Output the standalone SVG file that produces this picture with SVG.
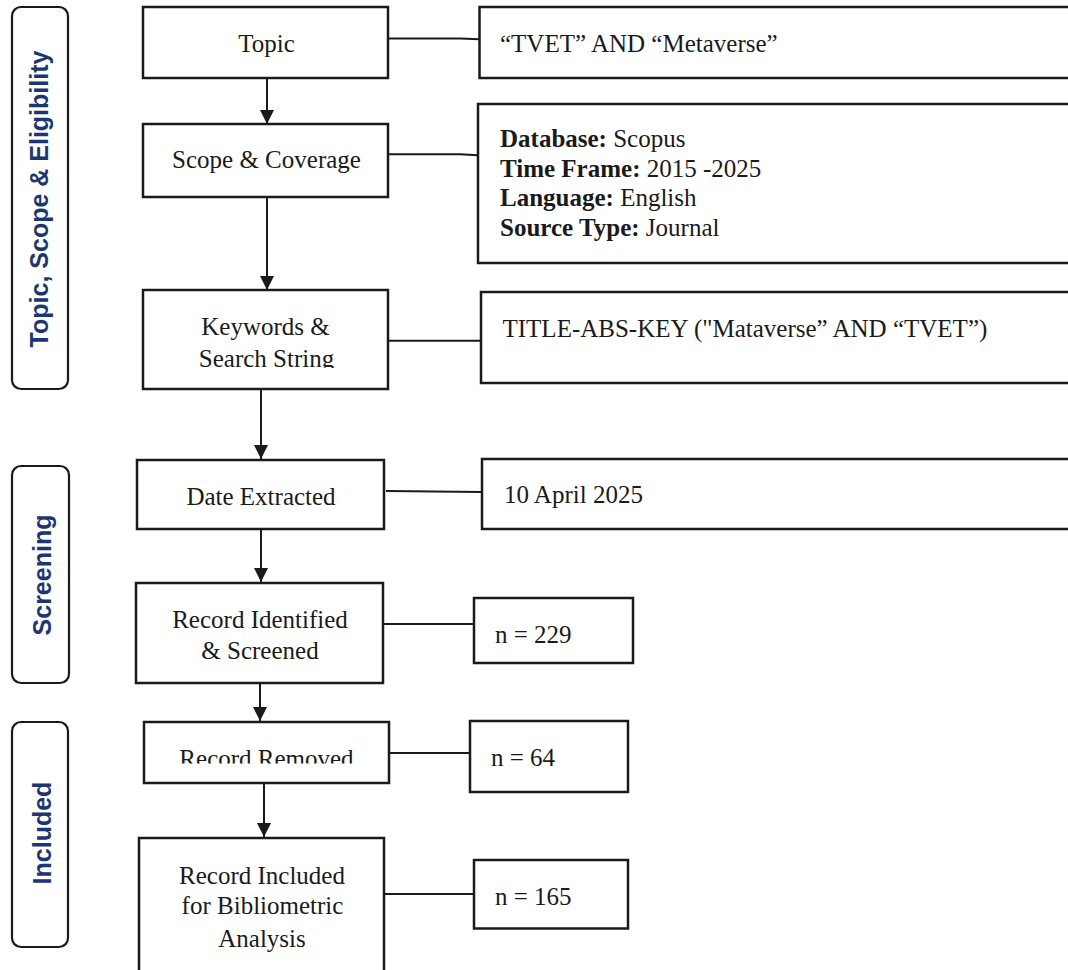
<svg xmlns="http://www.w3.org/2000/svg" width="1068" height="970" viewBox="0 0 1068 970">
<style>
.box{fill:#fff;stroke:#1a1a1a;stroke-width:2.5}
.side{fill:#fff;stroke:#1a1a1a;stroke-width:2.2}
.t{font-family:"Liberation Serif","Times New Roman",serif;font-size:25px;fill:#1a1a1a}
.c{text-anchor:middle}
.b{font-weight:bold}
.lab{font-family:"Liberation Sans",Arial,sans-serif;font-size:25px;font-weight:bold;fill:#1c3672;text-anchor:middle}
.ln{fill:none;stroke:#1a1a1a;stroke-width:2}
</style>
<defs>
<marker id="ah" viewBox="0 0 10 10" refX="10" refY="5" markerWidth="7" markerHeight="7" markerUnits="strokeWidth" orient="auto">
<path d="M0,0 L10,5 L0,10 Z" fill="#1a1a1a"/>
</marker>
<clipPath id="clipKw"><rect x="140" y="288" width="250" height="80"/></clipPath>
<clipPath id="clipRm"><rect x="140" y="720" width="250" height="43.5"/></clipPath>
</defs>
<rect width="1068" height="970" fill="#fff"/>

<g id="stage-topic">
<rect class="side" x="12" y="7" width="56" height="382" rx="9"/>
<text class="lab" transform="translate(48,199) rotate(-90)">Topic, Scope &amp; Eligibility</text>
</g>
<g id="stage-screening">
<rect class="side" x="12" y="466" width="57" height="217" rx="9"/>
<text class="lab" transform="translate(51,575) rotate(-90)">Screening</text>
</g>
<g id="stage-included">
<rect class="side" x="12" y="722" width="56" height="225" rx="9"/>
<text class="lab" transform="translate(51,833) rotate(-90)">Included</text>
</g>

<g id="connectors">
<line class="ln" x1="267" y1="78" x2="267" y2="124" marker-end="url(#ah)"/>
<line class="ln" x1="267" y1="197" x2="267" y2="290" marker-end="url(#ah)"/>
<line class="ln" x1="261" y1="383" x2="261" y2="459" marker-end="url(#ah)"/>
<line class="ln" x1="261" y1="529" x2="261" y2="582" marker-end="url(#ah)"/>
<line class="ln" x1="260" y1="683" x2="260" y2="721" marker-end="url(#ah)"/>
<line class="ln" x1="264" y1="783" x2="264" y2="837" marker-end="url(#ah)"/>
<polyline class="ln" points="388,38.5 460,38.5 480,39.3"/>
<polyline class="ln" points="388,154.3 460,154.3 478,155.3"/>
<line class="ln" x1="388" y1="340.7" x2="481" y2="340.7"/>
<line class="ln" x1="386" y1="491" x2="482" y2="492"/>
<line class="ln" x1="383" y1="624" x2="474" y2="624"/>
<line class="ln" x1="389" y1="753" x2="470" y2="753"/>
<line class="ln" x1="384" y1="894" x2="474" y2="894"/>
</g>

<g id="topic">
<rect class="box" x="143" y="7" width="245" height="71"/>
<text class="t c" x="266.5" y="52">Topic</text>
</g>
<g id="topic-detail">
<rect class="box" x="479.5" y="7" width="600" height="71"/>
<text class="t" x="500" y="52">“TVET” AND “Metaverse”</text>
</g>

<g id="scope">
<rect class="box" x="143" y="124" width="245" height="73"/>
<text class="t c" x="266.5" y="168">Scope &amp; Coverage</text>
</g>
<g id="scope-detail">
<rect class="box" x="478" y="104" width="600" height="159"/>
<text class="t" x="500" y="147"><tspan class="b">Database:</tspan> Scopus</text>
<text class="t" x="500" y="177"><tspan class="b">Time Frame:</tspan> 2015 -2025</text>
<text class="t" x="500" y="206"><tspan class="b">Language:</tspan> English</text>
<text class="t" x="500" y="235.5"><tspan class="b">Source Type:</tspan> Journal</text>
</g>

<g id="keywords">
<rect class="box" x="143" y="290" width="245" height="99"/>
<text class="t c" x="265.5" y="335">Keywords &amp;</text>
<text class="t c" x="266.5" y="367" clip-path="url(#clipKw)">Search String</text>
</g>
<g id="keywords-detail">
<rect class="box" x="481" y="292" width="600" height="91"/>
<text class="t" x="502.5" y="337">TITLE-ABS-KEY ("Mataverse” AND “TVET”)</text>
</g>

<g id="date">
<rect class="box" x="137" y="460" width="247" height="69"/>
<text class="t c" x="261" y="505">Date Extracted</text>
</g>
<g id="date-detail">
<rect class="box" x="482" y="459" width="600" height="70"/>
<text class="t" x="504" y="503">10 April 2025</text>
</g>

<g id="identified">
<rect class="box" x="136" y="583" width="247" height="100"/>
<text class="t c" x="260" y="628">Record Identified</text>
<text class="t c" x="260" y="659">&amp; Screened</text>
</g>
<g id="identified-n">
<rect class="box" x="474" y="598" width="159" height="65"/>
<text class="t" x="495" y="643">n = 229</text>
</g>

<g id="removed">
<rect class="box" x="144" y="722" width="245" height="61"/>
<text class="t c" x="266.5" y="767" clip-path="url(#clipRm)">Record Removed</text>
</g>
<g id="removed-n">
<rect class="box" x="470" y="721" width="158" height="71"/>
<text class="t" x="491" y="766">n = 64</text>
</g>

<g id="included">
<rect class="box" x="139" y="838" width="245" height="150"/>
<text class="t c" x="262" y="883.5">Record Included</text>
<text class="t c" x="262.5" y="914">for Bibliometric</text>
<text class="t c" x="262" y="947">Analysis</text>
</g>
<g id="included-n">
<rect class="box" x="474" y="860" width="154" height="68.5"/>
<text class="t" x="495" y="905">n = 165</text>
</g>
</svg>
